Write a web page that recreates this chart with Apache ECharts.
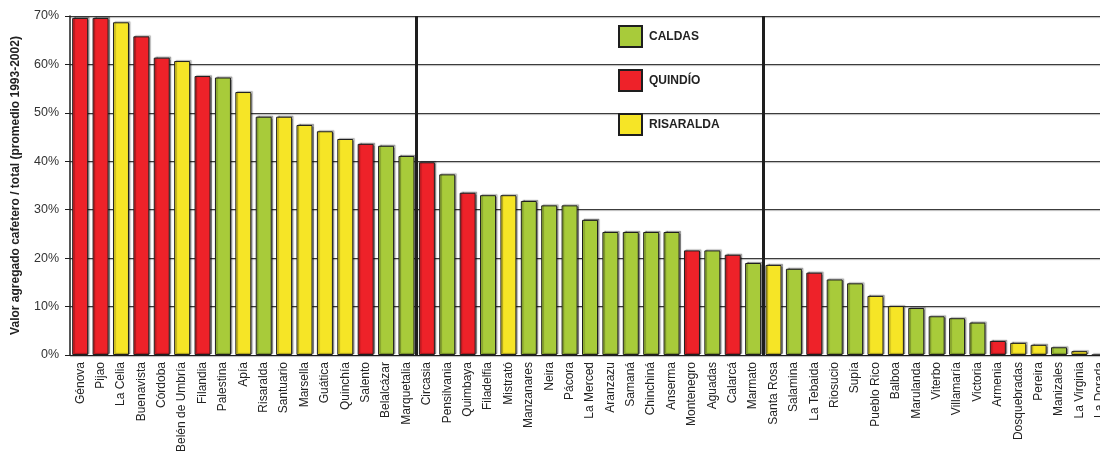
<!DOCTYPE html>
<html><head><meta charset="utf-8">
<script src="https://cdn.jsdelivr.net/npm/echarts@6/dist/echarts.min.js"></script>
<style>html,body{margin:0;padding:0;background:#fff;overflow:hidden}#c{width:1112px;height:463px}</style>
</head><body><div id="c"></div>
<script>
const categories = ["Génova","Pijao","La Celia","Buenavista","Córdoba","Belén de Umbría","Filandia","Palestina","Apía","Risaralda","Santuario","Marsella","Guática","Quinchía","Salento","Belalcázar","Marquetalia","Circasia","Pensilvania","Quimbaya","Filadelfia","Mistrató","Manzanares","Neira","Pácora","La Merced","Aranzazu","Samaná","Chinchiná","Anserma","Montenegro","Aguadas","Calarcá","Marmato","Santa Rosa","Salamina","La Tebaida","Riosucio","Supía","Pueblo Rico","Balboa","Marulanda","Viterbo","Villamaría","Victoria","Armenia","Dosquebradas","Pereira","Manizales","La Virginia","La Dorada"];
const values = [69.6,69.6,68.7,65.8,61.4,60.7,57.6,57.3,54.3,49.2,49.2,47.5,46.2,44.6,43.6,43.2,41.1,39.8,37.3,33.5,33.0,33.0,31.8,30.9,30.9,27.9,25.4,25.4,25.4,25.4,21.6,21.6,20.7,19.0,18.6,17.8,17.0,15.6,14.8,12.2,10.1,9.7,8.0,7.6,6.7,2.9,2.5,2.1,1.6,0.8,0];
const dept = ["Q","Q","R","Q","Q","R","Q","C","R","C","R","R","R","R","Q","C","C","Q","C","Q","C","R","C","C","C","C","C","C","C","C","Q","C","Q","C","R","C","Q","C","C","R","R","C","C","C","C","Q","R","R","C","R","C"];
const departments = [{key:"C",name:"CALDAS",color:"#A8CB3A"},{key:"Q",name:"QUINDÍO",color:"#EE2229"},{key:"R",name:"RISARALDA",color:"#F6E526"}];
const yTicks = [0,10,20,30,40,50,60,70];
const separators = [17,34];

const font = "Liberation Sans";
const series = departments.map(d => ({
  name: d.name, type: 'bar', stack: 'all', barWidth: 16,
  data: values.map((v,i) => dept[i] === d.key ? v : '-'),
  itemStyle: {color: d.color, borderColor: '#1e1e1e', borderWidth: 1,
    shadowColor: 'rgba(0,0,0,0.35)', shadowBlur: 1, shadowOffsetX: 1.5, shadowOffsetY: -1}
}));
series.push({
  type: 'line', xAxisIndex: 1, yAxisIndex: 0, data: [], silent: true,
  markLine: {silent: true, symbol: 'none', label: {show: false},
    lineStyle: {color: '#1e1e1e', width: 3, type: 'solid'},
    data: separators.map(s => ({xAxis: s}))}
});

const chart = echarts.init(document.getElementById('c'));
chart.setOption({
  animation: false,
  textStyle: {fontFamily: font},
  grid: {left: 70, top: 16, width: 1040, height: 339, containLabel: false},
  legend: {
    orient: 'vertical', left: 613, top: 20, itemWidth: 23, itemHeight: 21, itemGap: 21,
    icon: 'rect',
    data: departments.map(d => d.name),
    textStyle: {fontFamily: font, fontWeight: 'bold', fontSize: 12, color: '#222', padding: [0,0,0,2]},
    selectedMode: false
  },
  xAxis: [{
    type: 'category', data: categories,
    axisLine: {lineStyle: {color: '#1e1e1e', width: 1}},
    axisTick: {show: false},
    axisLabel: {interval: 0, rotate: 90, fontSize: 12, color: '#222', margin: 7, fontFamily: font}
  },{
    type: 'value', min: 0, max: categories.length, show: false
  }],
  yAxis: {
    type: 'value', min: 0, max: 70, interval: 10,
    name: 'Valor agregado cafetero / total (promedio 1993-2002)',
    nameLocation: 'middle', nameGap: 48,
    nameTextStyle: {fontWeight: 'bold', fontSize: 12, color: '#222', fontFamily: font},
    axisLine: {show: true, lineStyle: {color: '#1e1e1e', width: 1.5}},
    axisTick: {show: true, length: 5, lineStyle: {color: '#1e1e1e'}},
    axisLabel: {formatter: v => yTicks.includes(v) ? v + '%' : '', fontSize: 12.5, color: '#333', margin: 11, fontFamily: font},
    splitLine: {lineStyle: {color: '#3c3c3c', width: 1, shadowColor: 'rgba(0,0,0,0.3)', shadowBlur: 1, shadowOffsetY: 1}}
  },
  series: series
});
</script></body></html>
